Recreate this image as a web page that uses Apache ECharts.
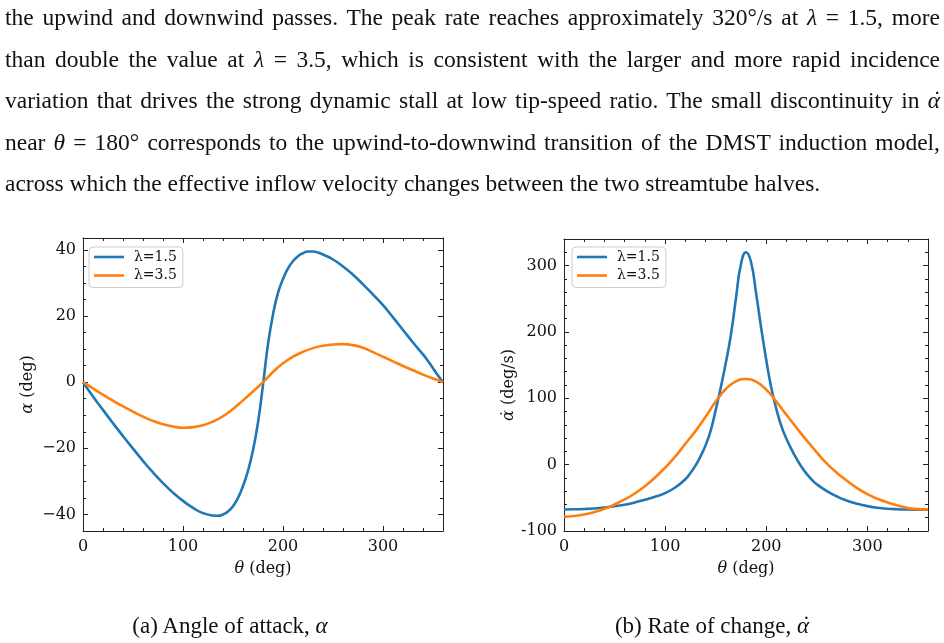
<!DOCTYPE html>
<html>
<head>
<meta charset="utf-8">
<title>攻角与攻角变化率</title>
<script src="https://cdn.jsdelivr.net/npm/echarts@6/dist/echarts.min.js"></script>
<style>
  body { margin: 0; background: #fff; }
  #wrap { position: relative; width: 944px; height: 643px; overflow: hidden; }
  #chart { position: absolute; left: 0; top: 0; width: 944px; height: 643px; }
  #text {
    position: absolute; left: 5px; top: -3px; width: 935px;
    font-family: 'Liberation Serif', 'Times New Roman', serif;
    font-size: 23.5px; line-height: 41.5px; color: #111;
  }
  #text div { text-align: justify; text-align-last: justify; white-space: nowrap; }
  #text div.last { text-align-last: left; }
  .cap {
    position: absolute; top: 613px; transform: translateX(-50%); white-space: nowrap;
    font-family: 'Liberation Serif', 'Times New Roman', serif; font-size: 23px; color: #111;
  }
  .m { font-family: 'Liberation Serif', serif; font-style: italic; }
  .adot { position: relative; display: inline-block; font-family: 'Liberation Serif', serif; font-style: italic; }
  .adot::after { content: "\02D9"; position: absolute; left: 0.24em; top: -0.06em; font-style: normal; }
</style>
</head>
<body>
<div id="wrap">
  <div id="chart"></div>
  <div id="text">
    <div>the upwind and downwind passes. The peak rate reaches approximately 320°/s at <span class="m">λ</span> = 1.5, more</div>
    <div>than double the value at <span class="m">λ</span> = 3.5, which is consistent with the larger and more rapid incidence</div>
    <div>variation that drives the strong dynamic stall at low tip-speed ratio. The small discontinuity in <span class="adot">α</span></div>
    <div>near <span class="m">θ</span> = 180° corresponds to the upwind-to-downwind transition of the DMST induction model,</div>
    <div class="last">across which the effective inflow velocity changes between the two streamtube halves.</div>
  </div>
  <div class="cap" style="left:230px;">(a) Angle of attack, <span class="m">α</span></div>
  <div class="cap" style="left:712px;">(b) Rate of change, <span class="adot">α</span></div>
</div>

<script type="text/javascript">
// 左图：攻角 alpha (deg)，λ=1.5
var theta15 = [0,10,20,30,40,50,60,70,80,90,100,110,120,130,135,140,145,150,155,160,165,170,175,180,
               185,190,195,200,205,210,215,220,225,230,235,240,250,260,270,280,290,300,310,320,330,340,345,350,355,360];
var alpha15 = [0,-4.3,-8.4,-12.4,-16.3,-20.1,-23.8,-27.3,-30.5,-33.4,-35.9,-38.0,-39.6,-40.3,-40.4,-40.0,-39.1,-37.5,-35.0,-31.4,-26.8,-20.6,-12.2,-0.8,
               11.5,20.5,27.0,31.2,34.4,36.6,38.1,39.0,39.5,39.5,39.2,38.6,37.1,35.0,32.5,29.6,26.5,23.3,19.6,15.8,12.0,8.4,6.4,4.2,2.0,0];
// 左图：λ=3.5
var theta35 = [0,10,20,30,40,50,60,70,80,90,100,110,120,130,140,150,160,170,180,
               190,200,210,220,230,240,250,260,270,280,290,300,310,320,330,340,350,360];
var alpha35 = [0,-1.9,-3.8,-5.6,-7.3,-8.9,-10.4,-11.7,-12.7,-13.4,-13.8,-13.6,-13.0,-11.9,-10.3,-8.1,-5.5,-2.8,0,
               3.1,5.7,7.7,9.2,10.3,11.0,11.4,11.5,11.2,10.4,9.1,7.7,6.3,4.9,3.6,2.3,1.1,0];

// 右图：攻角变化率 (deg/s)，λ=1.5
var thetaR15 = [0,10,20,30,40,50,60,70,80,90,100,110,120,125,130,135,140,145,150,155,160,165,170,175,180,
                185,190,195,200,205,210,215,220,225,230,235,240,245,250,260,270,280,290,300,310,320,330,340,350,360];
var rate15 = [-67.5,-67.3,-66.8,-66.0,-64.6,-62.6,-60.3,-57.0,-53.0,-48.5,-43,-34.5,-22,-12.5,-1.5,12.5,29,51,82,116,153,195,250,302,320,
              305,258,206,158,116,84,58,39,23,9,-3.5,-14,-22.5,-29.5,-40,-48,-54.5,-59,-62.5,-65,-66.5,-67.2,-67.6,-67.8,-68];
// 右图：λ=3.5
var thetaR35 = [0,10,20,30,40,50,60,70,80,90,100,110,120,130,140,150,160,170,180,
                190,200,210,220,230,240,250,260,270,280,290,300,310,320,330,340,350,360];
var rate35 = [-78.5,-77.5,-75.2,-71.5,-66.5,-60.0,-52.5,-43.5,-32.5,-19.5,-4.5,12,31.5,50.5,72,95,114,125.5,129,
              125,113,95,75,55.5,36.5,18.5,1.5,-12.5,-24.5,-35.5,-44.5,-51.5,-57,-61.5,-65.5,-67,-68];

var xTicks = [0, 100, 200, 300];
var seriesNames = ['λ=1.5', 'λ=3.5'];
var colors = ['#1f77b4', '#ff7f0e'];

function pairs(xs, ys) {
    var out = [];
    for (var i = 0; i < xs.length; i++) out.push([xs[i], ys[i]]);
    return out;
}

var FONT = 'DejaVu Serif';
var AX = '#222';

function minus(v) {
    return v < 0 ? '\u2212' + (-v) : String(v);
}

// 主刻度 + 次刻度 + 上/右镜像刻度，刻度朝内
function xAxesFor(g) {
    var base = { type: 'value', gridIndex: g, min: 0, max: 360, splitLine: { show: false } };
    return [
        Object.assign({}, base, {
            position: 'bottom', interval: 100,
            axisLine: { show: true, onZero: false, lineStyle: { color: AX, width: 1 } },
            axisTick: { show: true, inside: true, length: 5, lineStyle: { color: AX } },
            axisLabel: { show: true, margin: 8, fontFamily: FONT, fontSize: 16, color: '#111', showMaxLabel: false,
                formatter: function (v) { return xTicks.indexOf(v) >= 0 ? String(v) : ''; } },
            name: '{i|θ} (deg)', nameLocation: 'middle', nameGap: 30,
            nameTextStyle: { fontFamily: FONT, fontSize: 16, color: '#111',
                rich: { i: { fontFamily: FONT, fontStyle: 'italic', fontSize: 16, color: '#111' } } }
        }),
        Object.assign({}, base, {
            position: 'bottom', interval: 20,
            axisLine: { show: false, onZero: false },
            axisTick: { show: true, inside: true, length: 3, lineStyle: { color: AX } },
            axisLabel: { show: false }
        }),
        Object.assign({}, base, {
            position: 'top', interval: 100,
            axisLine: { show: true, onZero: false, lineStyle: { color: AX, width: 1 } },
            axisTick: { show: true, inside: true, length: 5, lineStyle: { color: AX } },
            axisLabel: { show: false }
        }),
        Object.assign({}, base, {
            position: 'top', interval: 20,
            axisLine: { show: false, onZero: false },
            axisTick: { show: true, inside: true, length: 3, lineStyle: { color: AX } },
            axisLabel: { show: false }
        })
    ];
}

function yAxesFor(g, min, max, major, minor, fmt, name, nameGap) {
    var base = { type: 'value', gridIndex: g, min: min, max: max, splitLine: { show: false } };
    var majorOpt = major ? { interval: major } : { splitNumber: 4 };
    return [
        Object.assign({}, base, majorOpt, {
            position: 'left',
            axisLine: { show: true, onZero: false, lineStyle: { color: AX, width: 1 } },
            axisTick: { show: true, inside: true, length: 5, lineStyle: { color: AX } },
            axisLabel: { show: true, margin: 7, fontFamily: FONT, fontSize: 16, color: '#111',
                showMinLabel: major ? true : false, showMaxLabel: false, formatter: fmt },
            name: name, nameLocation: 'middle', nameGap: nameGap, nameRotate: 90,
            nameTextStyle: { fontFamily: FONT, fontSize: 16, color: '#111',
                rich: { i: { fontFamily: FONT, fontStyle: 'italic', fontSize: 16, color: '#111' } } }
        }),
        Object.assign({}, base, {
            position: 'left', interval: minor,
            axisLine: { show: false, onZero: false },
            axisTick: { show: true, inside: true, length: 3, lineStyle: { color: AX } },
            axisLabel: { show: false }
        }),
        Object.assign({}, base, majorOpt, {
            position: 'right',
            axisLine: { show: true, onZero: false, lineStyle: { color: AX, width: 1 } },
            axisTick: { show: true, inside: true, length: 5, lineStyle: { color: AX } },
            axisLabel: { show: false }
        }),
        Object.assign({}, base, {
            position: 'right', interval: minor,
            axisLine: { show: false, onZero: false },
            axisTick: { show: true, inside: true, length: 3, lineStyle: { color: AX } },
            axisLabel: { show: false }
        })
    ];
}

function lineSeries(name, color, xi, yi, data) {
    return {
        type: 'line', name: name, xAxisIndex: xi, yAxisIndex: yi,
        data: data, symbol: 'none', showSymbol: false, smooth: true,
        lineStyle: { color: color, width: 2.6 }, itemStyle: { color: color },
        animation: false, z: 3
    };
}

function legendAt(left) {
    return {
        left: left, top: 247, orient: 'vertical', data: seriesNames,
        icon: 'rect', itemWidth: 30, itemHeight: 2.6, itemGap: 4.5,
        padding: [3, 6, 5, 5],
        backgroundColor: 'rgba(255,255,255,0.85)', borderColor: '#cccccc', borderWidth: 1, borderRadius: 4,
        textStyle: { fontFamily: FONT, fontSize: 14, color: '#111', padding: [0, 0, 0, 5] },
        selectedMode: false
    };
}

var chart = echarts.init(document.getElementById('chart'));
chart.setOption({
    animation: false,
    backgroundColor: 'transparent',
    textStyle: { fontFamily: FONT },
    grid: [
        { left: 83, top: 238, width: 360, height: 293 },
        { left: 564, top: 239, width: 364, height: 292 }
    ],
    xAxis: xAxesFor(0).concat(xAxesFor(1)),
    yAxis: yAxesFor(0, -45, 43.6, null, 5, minus, '{i|α} (deg)', 47)
        .concat(yAxesFor(1, -100, 340, 100, 20, function (v) { return String(v); }, '{i|α̇} (deg/s)', 46)),
    legend: [legendAt(89), legendAt(572)],
    series: [
        lineSeries(seriesNames[0], colors[0], 0, 0, pairs(theta15, alpha15)),
        lineSeries(seriesNames[1], colors[1], 0, 0, pairs(theta35, alpha35)),
        lineSeries(seriesNames[0], colors[0], 4, 4, pairs(thetaR15, rate15)),
        lineSeries(seriesNames[1], colors[1], 4, 4, pairs(thetaR35, rate35))
    ]
});
</script>
</body>
</html>
